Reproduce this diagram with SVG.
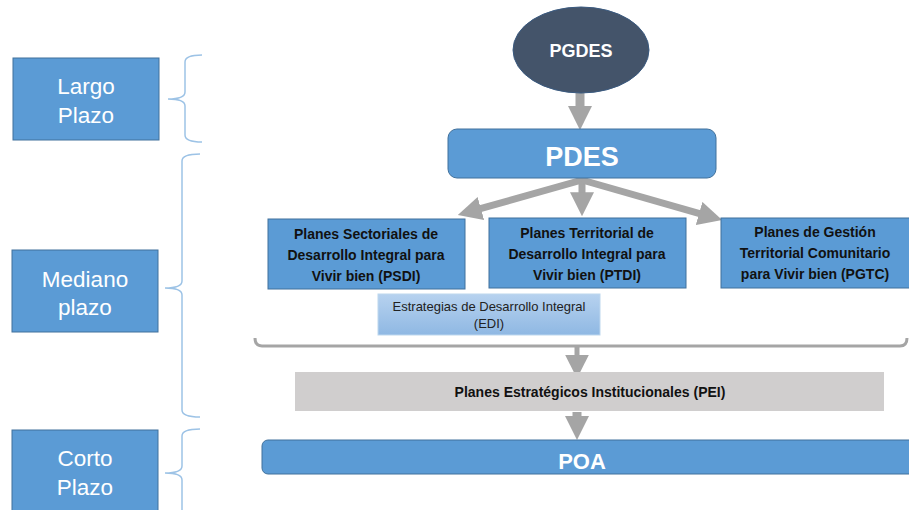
<svg xmlns="http://www.w3.org/2000/svg" width="909" height="510" viewBox="0 0 909 510">
<defs>
<style>
.box{fill:#5B9BD5;stroke:#41719C;stroke-width:1}
.lbl{font-family:"Liberation Sans",Arial,sans-serif;font-size:22.5px;fill:#fff;text-anchor:middle}
.bt{font-family:"Liberation Sans",Arial,sans-serif;font-weight:bold;font-size:14px;fill:#111;text-anchor:middle}
.wt{font-family:"Liberation Sans",Arial,sans-serif;font-weight:bold;fill:#fff;text-anchor:middle}
.brace{fill:none;stroke:#9DC3E6;stroke-width:1.5}
.arr{stroke:#A5A5A5;fill:none;marker-end:url(#ah)}
</style>
<marker id="ah" viewBox="0 0 10 10" refX="1" refY="5" markerWidth="24" markerHeight="24" markerUnits="userSpaceOnUse" orient="auto">
<path d="M0,0 L10,5 L0,10 z" fill="#A5A5A5"/>
</marker>
<linearGradient id="edi" x1="0" y1="0" x2="0" y2="1">
<stop offset="0" stop-color="#B7D2EF"/>
<stop offset="1" stop-color="#8FB8E3"/>
</linearGradient>
</defs>

<g id="braces">
<path class="brace" d="M202,55 Q185,55 185,62 L185,92 Q185,99 168,99 Q185,99 185,106 L185,135 Q185,142 202,142"/>
<path class="brace" d="M200,154 Q182,154 182,161 L182,281 Q182,288 165,288 Q182,288 182,295 L182,410 Q182,417 200,417"/>
<path class="brace" d="M200,429 Q182,429 182,436 L182,466 Q182,473 165,473 Q182,473 182,480 L182,515"/>
</g>

<g id="largo">
<rect class="box" x="13" y="58" width="146" height="82"/>
<text class="lbl" x="86" y="94">Largo</text>
<text class="lbl" x="86" y="123">Plazo</text>
</g>
<g id="mediano">
<rect class="box" x="12" y="250" width="146" height="82"/>
<text class="lbl" x="85" y="287">Mediano</text>
<text class="lbl" x="85" y="315">plazo</text>
</g>
<g id="corto">
<rect class="box" x="12" y="430" width="146" height="85"/>
<text class="lbl" x="85" y="466">Corto</text>
<text class="lbl" x="85" y="495">Plazo</text>
</g>

<g id="connectors">
<line class="arr" x1="580" y1="93" x2="580" y2="108.5" stroke-width="9"/>
<line class="arr" x1="582" y1="180" x2="478.6" y2="209.2" stroke-width="7"/>
<line class="arr" x1="582" y1="178" x2="582" y2="194.6" stroke-width="7"/>
<line class="arr" x1="582" y1="180" x2="701.4" y2="214.1" stroke-width="7"/>
<path d="M255,338 Q255,346 262,346 L900,346 Q907,346 907,338" fill="none" stroke="#A5A5A5" stroke-width="3"/>
<line class="arr" x1="577" y1="346" x2="577" y2="357" stroke-width="5"/>
<line class="arr" x1="577" y1="412" x2="577" y2="418.4" stroke-width="9"/>
</g>

<g id="pgdes">
<ellipse cx="581" cy="50" rx="68" ry="43" fill="#44546A" stroke="#3A5A80" stroke-width="1"/>
<text class="wt" x="581" y="57" font-size="18">PGDES</text>
</g>

<g id="pdes">
<rect class="box" x="448" y="129" width="268" height="49" rx="9"/>
<text class="wt" x="582" y="166" font-size="27">PDES</text>
</g>

<g id="psdi">
<rect class="box" x="268" y="219" width="197" height="70"/>
<text class="bt" x="366" y="239">Planes Sectoriales de</text>
<text class="bt" x="366" y="260">Desarrollo Integral para</text>
<text class="bt" x="366" y="281">Vivir bien (PSDI)</text>
</g>

<g id="ptdi">
<rect class="box" x="489" y="218" width="197" height="70"/>
<text class="bt" x="587" y="238">Planes Territorial de</text>
<text class="bt" x="587" y="259">Desarrollo Integral para</text>
<text class="bt" x="587" y="280">Vivir bien (PTDI)</text>
</g>

<g id="pgtc">
<rect class="box" x="721" y="218" width="190" height="70"/>
<text class="bt" x="815" y="237">Planes de Gestión</text>
<text class="bt" x="815" y="258">Territorial Comunitario</text>
<text class="bt" x="815" y="279">para Vivir bien (PGTC)</text>
</g>

<g id="edi">
<rect x="378" y="294" width="222" height="41" fill="url(#edi)" stroke="#BDD7EE" stroke-width="1"/>
<text x="489" y="311" font-family="Liberation Sans, Arial, sans-serif" font-size="13" fill="#222" text-anchor="middle">Estrategias de Desarrollo Integral</text>
<text x="489" y="328" font-family="Liberation Sans, Arial, sans-serif" font-size="13" fill="#222" text-anchor="middle">(EDI)</text>
</g>

<g id="pei">
<rect x="295" y="372" width="589" height="39" fill="#D0CECE"/>
<text class="bt" x="590" y="397" font-size="13.5">Planes Estratégicos Institucionales (PEI)</text>
</g>

<g id="poa">
<rect class="box" x="262" y="440" width="660" height="34" rx="6"/>
<text class="wt" x="582" y="469" font-size="22">POA</text>
</g>
</svg>
